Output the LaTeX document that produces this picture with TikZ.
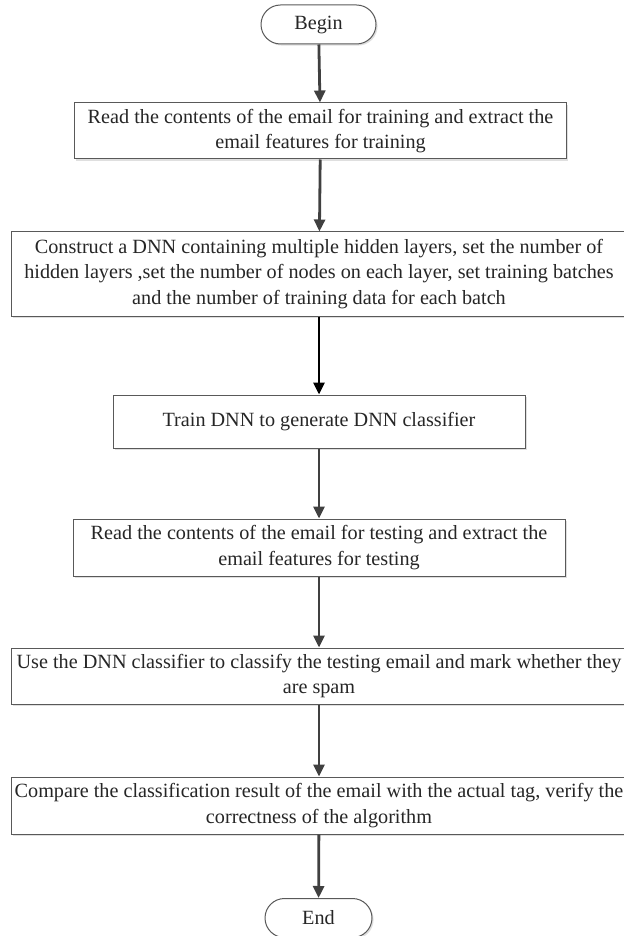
\documentclass[tikz,border=0pt]{standalone}
\usepackage{fontspec}
\setmainfont{Liberation Serif}
\usetikzlibrary{arrows.meta}
\usetikzlibrary{shapes.misc,shadows}

\begin{document}
\begin{tikzpicture}[x=0.5pt,y=0.5pt]
	\useasboundingbox (0,0) rectangle (624,-936);
	\begin{scope}[every node/.style={draw=black!65,line width=0.5pt,fill=white,align=center,inner sep=1pt,
		font=\fontsize{10.1}{12.85}\selectfont,text=black!85,
		drop shadow={shadow xshift=0.8pt,shadow yshift=-0.8pt,opacity=0.25}}]
		\node[rounded rectangle,minimum width=59.5pt,minimum height=19.5pt] (begin) at (318.5,-24.5) {Begin};
		\node[minimum width=246pt,minimum height=28pt] (readtrain) at (320.5,-131) {Read the contents of the email for training and extract the\\email features for training};
		\node[minimum width=308pt,minimum height=42pt] (construct) at (319,-274) {Construct a DNN containing multiple hidden layers, set the number of\\hidden layers ,set the number of nodes on each layer, set training batches\\and the number of training data for each batch};
		\node[minimum width=206pt,minimum height=26.5pt] (train) at (319,-421.5) {Train DNN to generate DNN classifier};
		\node[minimum width=246pt,minimum height=28.5pt] (readtest) at (319,-547.5) {Read the contents of the email for testing and extract the\\email features for testing};
		\node[minimum width=308pt,minimum height=28pt] (classify) at (319,-676) {Use the DNN classifier to classify the testing email and mark whether they\\are spam};
		\node[minimum width=308pt,minimum height=28.5pt] (compare) at (319,-805.5) {Compare the classification result of the email with the actual tag, verify the\\correctness of the algorithm};
		\node[rounded rectangle,minimum width=55.5pt,minimum height=19.5pt] (stop) at (318.5,-918) {End};
	\end{scope}

	\begin{scope}[>={Triangle[length=6pt,width=5.5pt]},every edge/.style={draw=black!75,line width=1.4pt,->}]
		\path (begin) edge (readtrain);
		\path (readtrain) edge (construct);
		\path (construct) edge[draw=black] (train);
		\path (train) edge (readtest);
		\path (readtest) edge (classify);
		\path (classify) edge (compare);
		\path (compare) edge (stop);
	\end{scope}
\end{tikzpicture}
\end{document}
